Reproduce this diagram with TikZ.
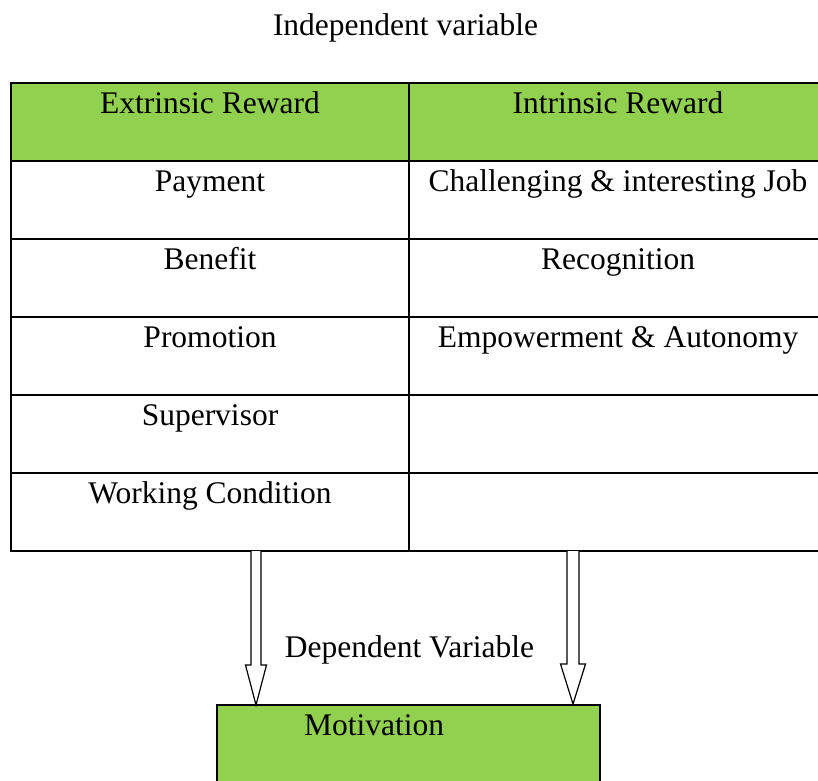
\documentclass[tikz,border=0pt]{standalone}
\usepackage{fontspec}
\setmainfont{Liberation Serif}
\usetikzlibrary{calc}
\definecolor{leafgreen}{HTML}{92D050}

% hollow block arrow pointing down from #1 to #2; #3 = shaft half width, #4 = head half width
\newcommand{\hollowdown}[4]{%
  \draw[arrowline] let \p1=(#1), \p2=(#2) in
    (\x1-#3,\y1) -- (\x1-#3,\y2+40pt) -- (\x1-#4,\y2+40pt) -- (\x1,\y2)
    -- (\x1+#4,\y2+40pt) -- (\x1+#3,\y2+40pt) -- (\x1+#3,\y1);}

\begin{document}
\begin{tikzpicture}[x=1pt,y=-1pt,
  every node/.style={font=\fontsize{31.5}{38}\selectfont},
  rule/.style={line width=2.2pt},
  cell/.style={draw, rule, inner sep=0pt, outer sep=0pt, anchor=north west,
               text height=30pt, text depth=48pt},
  leftcell/.style={cell, minimum width=398pt},
  rightcell/.style={cell, minimum width=418pt},
  head/.style={fill=leafgreen},
  arrowline/.style={draw=black, line width=1.2pt, fill=white, line join=miter},
  ]
\useasboundingbox (0,0) rectangle (818,780);
\clip (0,0) rectangle (818,780);

% title
\node[anchor=base, inner sep=0pt] (indep) at (405.5,35) {Independent variable};

% header row
\node[leftcell, head] (h1) at (11,83) {Extrinsic Reward};
\node[rightcell, head] (h2) at (h1.north east) {Intrinsic Reward};

% extrinsic column
\node[leftcell] (l1) at (h1.south west) {Payment};
\node[leftcell] (l2) at (l1.south west) {Benefit};
\node[leftcell] (l3) at (l2.south west) {Promotion};
\node[leftcell] (l4) at (l3.south west) {Supervisor};
\node[leftcell] (l5) at (l4.south west) {Working Condition};

% intrinsic column
\node[rightcell] (r1) at (l1.north east) {Challenging \& interesting Job};
\node[rightcell] (r2) at (l2.north east) {Recognition};
\node[rightcell] (r3) at (l3.north east) {Empowerment \& Autonomy};
\node[rightcell] (r4) at (l4.north east) {};
\node[rightcell] (r5) at (l5.north east) {};

% dependent variable
\node[anchor=base, inner sep=0pt] (dep) at (409.5,657) {Dependent Variable};
\node[draw, rule, fill=leafgreen, anchor=north west, inner sep=0pt, outer sep=0pt,
      minimum width=383pt, minimum height=100pt] (motiv) at (217,705) {};
\node[anchor=base west, inner sep=0pt] (motivtext) at (304,735) {Motivation};

% arrows from the table down to the box
\coordinate (ltail) at (256,551);
\coordinate (lhead) at (256,705);
\coordinate (rtail) at (573,551);
\coordinate (rhead) at (573,704);
\hollowdown{ltail}{lhead}{5pt}{10.5pt}
\hollowdown{rtail}{rhead}{6pt}{12.5pt}
\end{tikzpicture}
\end{document}
